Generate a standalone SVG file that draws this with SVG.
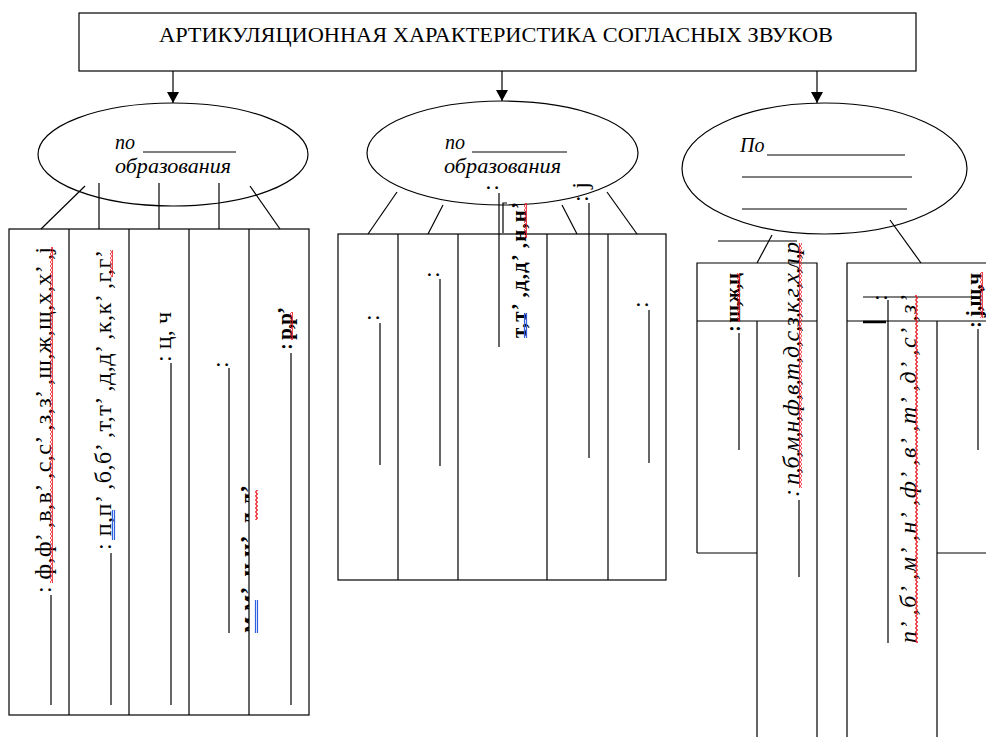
<svg xmlns="http://www.w3.org/2000/svg" width="986" height="737" viewBox="0 0 986 737">
<defs>
<marker id="arr" markerUnits="userSpaceOnUse" markerWidth="12" markerHeight="12" viewBox="0 0 12 12" refX="11" refY="6" orient="auto"><path d="M0,0 L11,6 L0,12 z" fill="#000"/></marker>
<pattern id="wavy" width="3" height="4" patternUnits="userSpaceOnUse"><path d="M0.5,0 L2.5,2 L0.5,4" fill="none" stroke="#e8141e" stroke-width="1.2"/></pattern>
<clipPath id="c4"><rect x="189" y="229" width="60" height="486"/></clipPath>
</defs>
<style>
.ln{stroke:#000;stroke-width:1.2;fill:none}
.t{font-family:"Liberation Serif","Times New Roman",serif;fill:#000}
.r{font-size:24px}
.s{font-size:21px;font-weight:600}
.e{font-size:20px;font-style:italic}
.i{font-style:italic}
.b{font-weight:bold}
.wv{fill:url(#wavy)}
.bl{stroke:#3060e0;stroke-width:1.2}
</style>
<rect width="986" height="737" fill="#fff"/>

<g id="title">
<rect class="ln" x="79" y="13" width="837" height="58"/>
<text class="t" x="159" y="42" font-size="20" textLength="674" lengthAdjust="spacingAndGlyphs">АРТИКУЛЯЦИОННАЯ ХАРАКТЕРИСТИКА СОГЛАСНЫХ ЗВУКОВ</text>
</g>

<g id="ellipse1">
<ellipse class="ln" cx="173" cy="154.5" rx="135" ry="51.5"/>
<text class="t e" x="115" y="149">по</text>
<line class="ln" x1="143" y1="152" x2="236" y2="152"/>
<text class="t e" x="115" y="173" textLength="116" lengthAdjust="spacingAndGlyphs">образования</text>
</g>

<g id="ellipse2">
<ellipse class="ln" cx="502.5" cy="153" rx="135.5" ry="52"/>
<text class="t e" x="445" y="149">по</text>
<line class="ln" x1="472" y1="152" x2="567" y2="152"/>
<text class="t e" x="444" y="173" textLength="117" lengthAdjust="spacingAndGlyphs">образования</text>
</g>

<g id="ellipse3">
<ellipse class="ln" cx="824.5" cy="168.5" rx="142.5" ry="65.5"/>
<text class="t e" x="740" y="152">По</text>
<line class="ln" x1="767" y1="155" x2="905" y2="155"/>
<line class="ln" x1="742" y1="177" x2="912" y2="177"/>
<line class="ln" x1="742" y1="209" x2="907" y2="209"/>
</g>

<g id="table-left">
<rect class="ln" x="9" y="229" width="300" height="486"/>
<path class="ln" d="M69,229V715M129,229V715M189,229V715M249,229V715"/>
<text class="t r" transform="translate(51,593) rotate(-90)" textLength="346" lengthAdjust="spacing">: ф,ф’ ,в,в’ ,с,с’ ,з,з’ ,ш,ж,щ,х,х’ ,j</text>
<line class="ln" x1="51" y1="595" x2="51" y2="705"/>
<rect class="wv" x="50" y="247" width="3" height="336"/>
<text class="t r" transform="translate(111,550) rotate(-90)" textLength="300" lengthAdjust="spacing">: п,п’ ,б,б’ ,т,т’ ,д,д’ ,к,к’ ,г,г’</text>
<line class="ln" x1="111" y1="553" x2="111" y2="705"/>
<rect class="wv" x="110" y="250" width="3" height="27"/>
<path class="bl" d="M112.5,510V540M114.5,510V540"/>
<text class="t r" transform="translate(171,362) rotate(-90)" textLength="50" lengthAdjust="spacing">: ц, ч</text>
<line class="ln" x1="171" y1="363" x2="171" y2="705"/>
<text class="t r" transform="translate(228,368) rotate(-90)">:</text>
<line class="ln" x1="229" y1="368" x2="229" y2="633"/>
<g clip-path="url(#c4)"><text class="t r b" transform="translate(256,633) rotate(-90)" textLength="148" lengthAdjust="spacing">м,м’ ,н,н’ ,л,л’</text></g>
<rect class="wv" x="255" y="490" width="3" height="30"/>
<path class="bl" d="M255.5,600V633M257.5,600V633"/>
<text class="t s" transform="translate(292,350) rotate(-90)" textLength="43" lengthAdjust="spacing">: р,р’</text>
<line class="ln" x1="291" y1="353" x2="291" y2="705"/>
<rect class="wv" x="290" y="312" width="3" height="28"/>
</g>

<g id="table-middle">
<rect class="ln" x="338" y="234" width="328" height="346"/>
<path class="ln" d="M398,234V580M458,234V580M547,234V580M608,234V580"/>
<text class="t r" transform="translate(379,321) rotate(-90)">:</text>
<line class="ln" x1="380" y1="323" x2="380" y2="465"/>
<text class="t r" transform="translate(439,278) rotate(-90)">:</text>
<line class="ln" x1="440" y1="279" x2="440" y2="466"/>
<text class="t r" transform="translate(498,191) rotate(-90)">:</text>
<line class="ln" x1="499" y1="193" x2="499" y2="347"/>
<path class="ln" d="M503,233V203H507" stroke="#666"/>
<text class="t s" transform="translate(526,338) rotate(-90)" textLength="136" lengthAdjust="spacing" font-size="23">т,т’ ,д,д’ ,н,н’</text>
<rect class="wv" x="524" y="203" width="3" height="35"/>
<path class="bl" d="M524.5,313V338M526.5,313V338"/>
<text class="t r" transform="translate(588,202) rotate(-90)" textLength="20" lengthAdjust="spacing">: j</text>
<line class="ln" x1="589" y1="203" x2="589" y2="458"/>
<text class="t r" transform="translate(648,308) rotate(-90)">:</text>
<line class="ln" x1="649" y1="310" x2="649" y2="463"/>
</g>

<g id="box-right1">
<path class="ln" d="M697,553V263H817V737M697,321H817M757,321V737M697,553H757"/>
<line class="ln" x1="718" y1="241" x2="797" y2="241"/>
<text class="t s" transform="translate(740,332) rotate(-90)" textLength="59" lengthAdjust="spacing">: ш,ж,ц</text>
<line class="ln" x1="739" y1="333" x2="739" y2="450"/>
<rect class="wv" x="737" y="273" width="3" height="49"/>
<text class="t r i" transform="translate(799,497) rotate(-90)" textLength="255" lengthAdjust="spacing">: п,б,м,н,ф,в,т,д,с,з,к,г,х,л,р</text>
<line class="ln" x1="799" y1="500" x2="799" y2="577"/>
<rect class="wv" x="799" y="243" width="3" height="245"/>
</g>

<g id="box-right2">
<path class="ln" d="M847,737V263H986M847,321H986M937,321V737M937,553H986"/>
<line class="ln" x1="863" y1="297" x2="977" y2="297"/>
<line x1="863" y1="322" x2="886" y2="322" stroke="#000" stroke-width="2.5"/>
<text class="t r" transform="translate(887,301) rotate(-90)">:</text>
<line class="ln" x1="888" y1="300" x2="888" y2="643"/>
<text class="t r i" transform="translate(916,643) rotate(-90)" textLength="348" lengthAdjust="spacing">п’ ,б’ ,м’ ,н’ ,ф’ ,в’ ,т’ ,д’ ,с’ ,з’</text>
<rect class="wv" x="915" y="295" width="3" height="348"/>
<text class="t s" transform="translate(981,328) rotate(-90)" textLength="55" lengthAdjust="spacing">: j,щ,ч</text>
<line class="ln" x1="978" y1="329" x2="978" y2="450"/>
<rect class="wv" x="980" y="272" width="3" height="46"/>
</g>

<g id="connectors">
<line class="ln" x1="173" y1="71" x2="173" y2="103" marker-end="url(#arr)"/>
<line class="ln" x1="502" y1="71" x2="502" y2="101" marker-end="url(#arr)"/>
<line class="ln" x1="817" y1="71" x2="817" y2="103" marker-end="url(#arr)"/>
<line class="ln" x1="85" y1="186" x2="41" y2="229"/>
<line class="ln" x1="99" y1="183" x2="99" y2="229"/>
<line class="ln" x1="159" y1="183" x2="159" y2="229"/>
<line class="ln" x1="219" y1="183" x2="219" y2="229"/>
<line class="ln" x1="250" y1="186" x2="280" y2="229"/>
<line class="ln" x1="397" y1="192" x2="368" y2="234"/>
<line class="ln" x1="443" y1="205" x2="428" y2="234"/>
<line class="ln" x1="562" y1="205" x2="577" y2="234"/>
<line class="ln" x1="607" y1="192" x2="637" y2="234"/>
<line class="ln" x1="772" y1="235" x2="757" y2="263"/>
<line class="ln" x1="890" y1="220" x2="921" y2="263"/>
</g>
</svg>
